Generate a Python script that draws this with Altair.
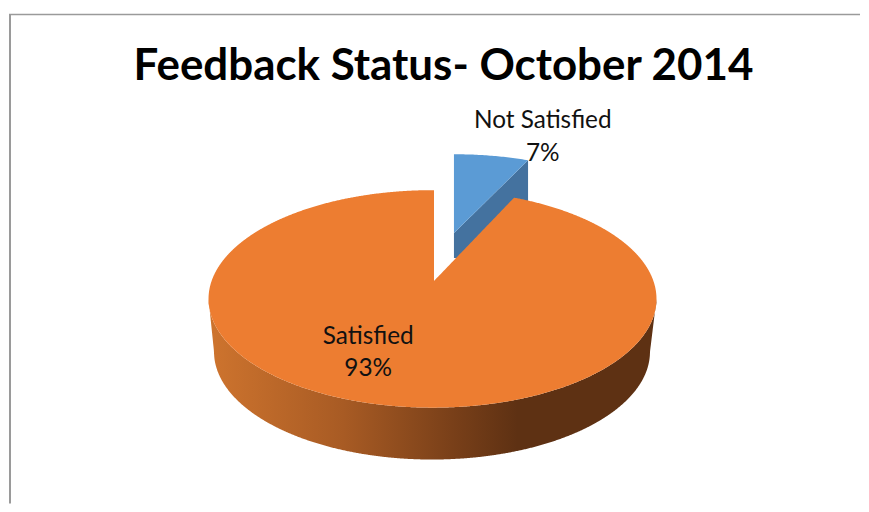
import numpy as np
import pandas as pd
import altair as alt

categories = ["Not Satisfied", "Satisfied"]
shares = [7, 93]
chart_title = "Feedback Status- October 2014"

# pie geometry (page pixels); slice sweep comes from the shares
CX, CY, RX, RY = 432.5, 299.0, 224.5, 109.0
BX, BCY, BRX, BRY = 432.0, 352.0, 218.5, 108.0
APEX_X, APEX_Y = 434.0, 281.0
FORESHORTEN = 0.84
sweep = np.sin(np.radians(3.6 * shares[0])) * RX * FORESHORTEN


def top_arc(x):
    return CY - RY * np.sqrt(np.clip(1 - ((x - CX) / RX) ** 2, 0, 1))


def bottom_arc(x):
    return CY + RY * np.sqrt(np.clip(1 - ((x - CX) / RX) ** 2, 0, 1))


grid = CX - RX * np.cos(np.linspace(0, np.pi, 721))
edge_x = APEX_X + sweep
edge_y = float(top_arc(np.array([edge_x]))[0])

# orange top surface: an ellipse with the not-satisfied wedge cut out
left = np.append(grid[grid < APEX_X - 0.02], APEX_X - 0.01)
right = np.insert(grid[grid > edge_x + 0.02], 0, edge_x + 0.01)
mid = np.linspace(APEX_X, edge_x, 60)
mid_top = APEX_Y + (edge_y - APEX_Y) * (mid - APEX_X) / (edge_x - APEX_X)
xs = np.concatenate([left, mid, right])
tops = np.concatenate([top_arc(left), mid_top, top_arc(right)])
orange_top = pd.DataFrame({"x": xs, "y": tops, "y2": bottom_arc(xs)})

# orange wall: between front of the top surface and the front of the smaller base
wx = grid
lower = np.where(
    np.abs(wx - BX) < BRX,
    BCY + BRY * np.sqrt(np.clip(1 - ((wx - BX) / BRX) ** 2, 0, 1)),
    BCY,
)
lo_edge = wx < BX - BRX
hi_edge = wx > BX + BRX
lower = np.where(lo_edge, CY + (wx - (CX - RX)) / (BX - BRX - CX + RX) * (BCY - CY), lower)
lower = np.where(hi_edge, CY + ((CX + RX) - wx) / (CX + RX - BX - BRX) * (BCY - CY), lower)
orange_wall = pd.DataFrame({"x": wx, "y": bottom_arc(wx), "y2": lower})

# exploded blue slice
BLUE_X, BLUE_APEX_Y = 454.0, 233.0
BLUE_SCALE = 0.925
BLUE_RX = RX * BLUE_SCALE
BLUE_RY = 91.0
BLUE_CY = 245.0
blue_x = np.linspace(BLUE_X, BLUE_X + sweep * BLUE_SCALE, 40)
blue_arc = BLUE_CY - BLUE_RY * np.sqrt(1 - ((blue_x - BLUE_X) / BLUE_RX) ** 2)
blue_diag = BLUE_APEX_Y + (blue_arc[-1] - BLUE_APEX_Y) * (blue_x - BLUE_X) / (blue_x[-1] - BLUE_X)
blue_top = pd.DataFrame({"x": blue_x, "y": blue_arc, "y2": blue_diag})
blue_wall = pd.DataFrame({"x": blue_x, "y": blue_diag, "y2": np.full_like(blue_x, 258.0)})

labels = pd.DataFrame(
    {
        "x": [543, 543, 368, 368],
        "y": [121, 154, 337, 369],
        "t": [categories[0], f"{shares[0]}%", categories[1], f"{shares[1]}%"],
    }
)

X = alt.X("x:Q", scale=alt.Scale(domain=[8, 861], nice=False, zero=False), axis=None)
Y = alt.Y("y:Q", scale=alt.Scale(domain=[504, 8], nice=False, zero=False), axis=None)


def area(df, color):
    return alt.Chart(df).mark_area(color=color, interpolate="linear").encode(
        x=X, y=Y, y2=alt.Y2("y2:Q")
    )


wall_gradient = alt.Gradient(
    gradient="linear",
    x1=0, x2=1, y1=0, y2=0,
    stops=[
        alt.GradientStop(offset=0, color="#CE742E"),
        alt.GradientStop(offset=0.3, color="#A85B24"),
        alt.GradientStop(offset=0.54, color="#7A4019"),
        alt.GradientStop(offset=0.69, color="#5E3113"),
        alt.GradientStop(offset=1, color="#5E3113"),
    ],
)

border_v = alt.Chart(pd.DataFrame({"x": [9], "y": [14], "y2": [504]})).mark_rule(
    color="#9A9A9A", strokeWidth=2
).encode(x=X, y=Y, y2="y2:Q")
border_h = alt.Chart(pd.DataFrame({"x": [8], "x2": [861], "y": [14]})).mark_rule(
    color="#9A9A9A", strokeWidth=1.5
).encode(x=X, x2="x2:Q", y=Y)

text = alt.Chart(labels).mark_text(
    font="Lato", fontSize=24.4, color="#111111", align="center", baseline="middle"
).encode(x=X, y=Y, text="t:N")

chart = (
    alt.layer(
        border_v,
        border_h,
        area(blue_wall, "#44729F"),
        area(blue_top, "#5B9BD5"),
        area(orange_wall, wall_gradient),
        area(orange_top, "#ED7D31"),
        text,
    )
    .properties(
        width=853,
        height=496,
        padding=0,
        background="#FFFFFF",
        title=alt.TitleParams(
            chart_title,
            font="Lato",
            fontSize=44,
            fontWeight="bold",
            color="#000000",
            anchor="middle",
            dx=9,
            offset=-81,
        ),
    )
    .configure_view(stroke=None)
)

chart.save("out.html", embed_options={"renderer": "svg", "actions": False})
